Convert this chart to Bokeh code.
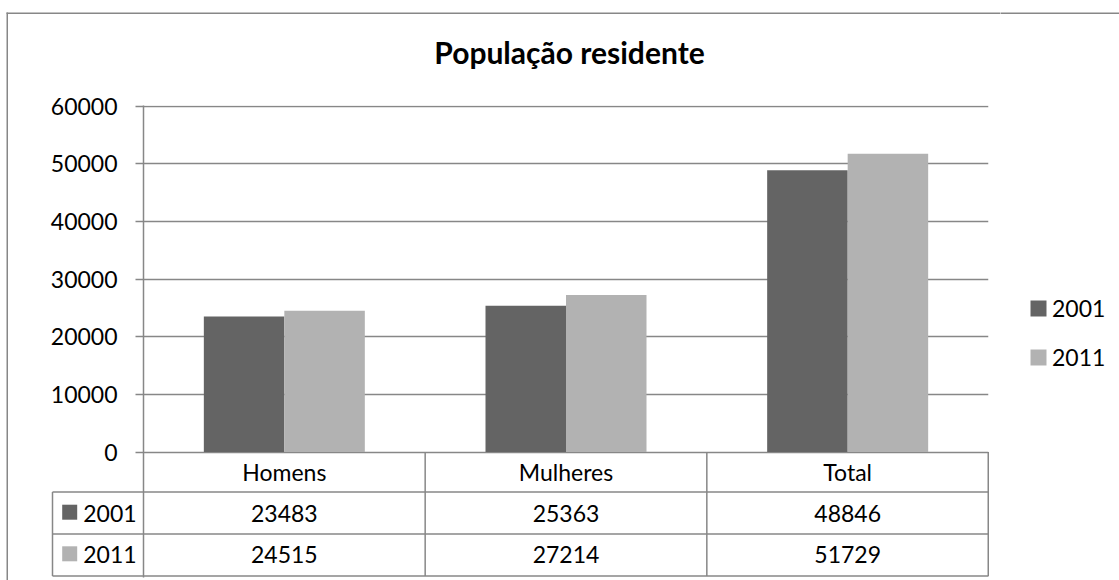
from bokeh.plotting import figure
from bokeh.layouts import row
from bokeh.models import ColumnDataSource, Range1d, FixedTicker, Legend, LegendItem
from bokeh.transform import dodge
from bokeh.core.properties import value
from bokeh.embed import file_html
from bokeh.resources import INLINE

# ---- data ----
title = "População residente"
categories = ["Homens", "Mulheres", "Total"]
series = ["2001", "2011"]
values_2001 = [23483, 25363, 48846]
values_2011 = [24515, 27214, 51729]
y_ticks = [0, 10000, 20000, 30000, 40000, 50000, 60000]

# ---- style ----
C_2001 = "#646464"
C_2011 = "#b2b2b2"
GRID = "#878787"
FONT = "Lato"
FS = "23px"

W_TOTAL, H = 1119, 580
W = 1000                      # main chart width; legend strip to its right
FL, FR, FT, FB = 143, 988, 105, 577
fw, fh = FR - FL, FB - FT

px_per_unit = 346.0 / 60000
y_end = 60000 + 0.5 / px_per_unit
y_start = y_end - fh / px_per_unit

ncat = len(categories)
p = figure(width=W, height=H,
           x_range=Range1d(0, ncat),
           y_range=Range1d(y_start, y_end),
           x_axis_location=None,
           output_backend="svg", toolbar_location=None,
           min_border_left=FL, min_border_right=W - FR,
           min_border_top=FT, min_border_bottom=H - FB)
p.outline_line_color = None
p.background_fill_color = "white"
p.border_fill_color = "white"

p.extra_x_ranges = {"px": Range1d(0, fw)}
p.extra_y_ranges = {"px": Range1d(fh, 0)}

# axis
ax = p.yaxis[0]
ax.ticker = FixedTicker(ticks=y_ticks)
ax.axis_line_color = GRID
ax.axis_line_width = 1.5
ax.major_tick_line_color = GRID
ax.major_tick_line_width = 1.5
ax.major_tick_out = 8
ax.major_tick_in = 0
ax.minor_tick_line_color = None
ax.major_label_standoff = 18
ax.major_label_text_font = FONT
ax.major_label_text_font_size = FS
ax.major_label_text_color = "black"

p.xgrid.visible = False
p.ygrid.ticker = FixedTicker(ticks=y_ticks)
p.ygrid.grid_line_color = GRID
p.ygrid.grid_line_width = 1.5

src = ColumnDataSource(dict(
    cat=categories, x=[i + 0.5 for i in range(ncat)],
    v2001=values_2001, v2011=values_2011,
    t2001=[str(v) for v in values_2001], t2011=[str(v) for v in values_2011],
))

bw = 80.5 / (fw / ncat)
r1 = p.vbar(x=dodge("x", -bw / 2), top="v2001", width=bw,
            source=src, fill_color=C_2001, line_color=None)
r2 = p.vbar(x=dodge("x", bw / 2), top="v2011", width=bw,
            source=src, fill_color=C_2011, line_color=None)

# ---- title ----
p.text(x=[426], y=[-53.5], text=[title], x_range_name="px", y_range_name="px",
       level="overlay", text_font=value(FONT), text_font_style="bold",
       text_font_size="30px", text_align="center", text_baseline="alphabetic",
       text_color="black")

# ---- outer chart border (top and left) ----
p.segment(x0=[-137, -136.25], x1=[W - FL, -136.25], y0=[-92.25, -93], y1=[-92.25, H - FT],
          x_range_name="px", y_range_name="px", line_color=GRID, line_width=1.5, level="overlay")

# ---- data table ----
hdr_top, row1_top, row2_top, tbl_bot = 346.5, 386.5, 428.5, 470.5
left_col = -91

p.segment(x0=[left_col, left_col, left_col], x1=[fw, fw, fw],
          y0=[row1_top, row2_top, tbl_bot], y1=[row1_top, row2_top, tbl_bot],
          x_range_name="px", y_range_name="px", line_color=GRID, line_width=1.5, level="overlay")
bounds = list(range(1, ncat))
p.segment(x0=bounds, x1=bounds, y0=[hdr_top] * len(bounds), y1=[tbl_bot] * len(bounds),
          y_range_name="px", line_color=GRID, line_width=1.5)
p.segment(x0=[fw - 0.25, left_col], x1=[fw - 0.25, left_col], y0=[hdr_top, row1_top], y1=[tbl_bot, tbl_bot],
          x_range_name="px", y_range_name="px", line_color=GRID, line_width=1.5, level="overlay")

for yy, col in [(366.7, "cat"), (407.7, "t2001"), (448.7, "t2011")]:
    p.text(x="x", y=yy, text=col, source=src, y_range_name="px",
           text_font=value(FONT), text_font_size=FS, text_align="center",
           text_baseline="alphabetic", text_color="black")

p.rect(x=[-73.8, -73.8], y=[406.7, 448.3], width=15, height=15,
       fill_color=[C_2001, C_2011], line_color=None,
       x_range_name="px", y_range_name="px", level="overlay")
p.text(x=[-60.3, -60.3], y=[407.7, 448.7], text=series,
       x_range_name="px", y_range_name="px", level="overlay",
       text_font=value(FONT), text_font_size=FS, text_align="left",
       text_baseline="alphabetic", text_color="black")

# ---- legend strip (same frame geometry as the chart) ----
W2 = W_TOTAL - W
p2 = figure(width=W2, height=H, x_range=Range1d(0, W2), y_range=Range1d(fh, 0),
            x_axis_location=None, y_axis_location=None,
            output_backend="svg", toolbar_location=None,
            min_border_left=0, min_border_right=0,
            min_border_top=FT, min_border_bottom=H - FB)
p2.outline_line_color = None
p2.background_fill_color = "white"
p2.border_fill_color = "white"
p2.grid.visible = False
p2.segment(x0=[0], x1=[W2], y0=[-92.25], y1=[-92.25], line_color=GRID,
           line_width=1.5, level="overlay")

# zero-height proxies that carry the series colours into the legend
proxy = ColumnDataSource(dict(x=[0], top=[0]))
k1 = p2.vbar(x="x", top="top", bottom=0, width=1, source=proxy, fill_color=C_2001, line_color=None)
k2 = p2.vbar(x="x", top="top", bottom=0, width=1, source=proxy, fill_color=C_2011, line_color=None)

legend = Legend(items=[LegendItem(label=series[0], renderers=[k1]),
                       LegendItem(label=series[1], renderers=[k2])],
                location=(28, 205), glyph_width=20, glyph_height=20,
                label_standoff=4, spacing=19, padding=0, margin=0,
                border_line_color=None, background_fill_alpha=0,
                label_text_font=FONT, label_text_font_size=FS,
                label_text_color="black", label_height=30)
p2.add_layout(legend)

layout = row(p, p2, spacing=0)
open("out.html", "w").write(file_html(layout, INLINE))
